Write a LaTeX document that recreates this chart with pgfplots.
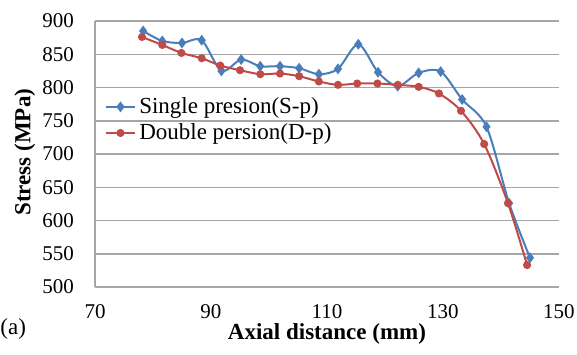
\documentclass[border=0pt]{standalone}
\usepackage{fontspec}
\setmainfont{Liberation Serif}
\usepackage{pgfplots}
\pgfplotsset{compat=1.18}
\definecolor{xblue}{HTML}{4A7EBB}
\definecolor{xred}{HTML}{BE4B48}
\definecolor{gridgray}{HTML}{A6A6A6}
\begin{document}
\begin{tikzpicture}
\begin{axis}[
  scale only axis, width=232pt, height=133pt, at={(0,0)}, anchor=south west,
  xmin=70, xmax=150, ymin=500, ymax=900,
  xtick={70,90,110,130,150}, ytick={500,550,...,900},
  major tick length=0pt,
  /pgf/number format/assume math mode=true,
  ymajorgrids, grid style={gridgray, line width=0.75pt},
  axis x line*=bottom, axis y line*=left,
  axis line style={gridgray, line width=0.75pt},
  tick label style={font=\fontsize{10.5}{12}\selectfont, black},
  yticklabel style={xshift=-7pt},
  xticklabel style={yshift=-5pt},
  xlabel={Axial distance (mm)}, ylabel={Stress (MPa)},
  label style={font=\fontsize{11.5}{13}\selectfont\bfseries},
  xlabel style={at={(axis description cs:0.5,-0.198)}, anchor=base},
  ylabel style={at={(axis description cs:-0.151,0.507)}, anchor=center},
  legend cell align=left,
  legend style={draw=none, fill=none, inner sep=0pt,
    at={(axis description cs:0.02,0.728)}, anchor=north west,
    font=\fontsize{11.5}{13}\selectfont,
    nodes={inner ysep=1.8pt, inner xsep=1.5pt}},
  legend image code/.code={\draw[mark repeat=2,mark phase=2,#1] plot coordinates {(0cm,0cm) (0.26cm,0cm) (0.52cm,0cm)};},
]
\addplot[xblue, line width=1pt, smooth, tension=0.5, mark=diamond*, mark size=1.9pt, mark options={solid}] coordinates {
(78.3,885) (81.6,870) (85.0,867) (88.4,871) (91.8,825) (95.2,842) (98.5,832) (101.9,832)
(105.2,829) (108.6,820) (111.9,828) (115.4,865) (118.8,823) (122.2,802) (125.8,822)
(129.6,824) (133.3,782) (137.5,741) (141.4,626) (145.0,544)};
\addlegendentry{Single presion(S-p)}
\addplot[xred, line width=1pt, smooth, tension=0.5, mark=*, mark size=1.5pt, mark options={solid}] coordinates {
(78.1,876) (81.6,864) (84.9,852) (88.4,844) (91.6,833) (95.0,826) (98.5,820) (101.9,821)
(105.2,817) (108.6,809) (111.9,804) (115.2,806) (118.7,806) (122.2,804) (125.8,801)
(129.3,791) (133.1,765) (137.1,715) (141.2,626) (144.5,533)};
\addlegendentry{Double persion(D-p)}
\end{axis}
\node[anchor=base west, inner sep=0pt, font=\fontsize{11.5}{13}\selectfont] at (-47.5pt,-23.5pt) {(a)};
\pgfresetboundingbox
\path (-47.5pt,-33.5pt) rectangle (241pt,143.5pt);
\end{tikzpicture}
\end{document}
